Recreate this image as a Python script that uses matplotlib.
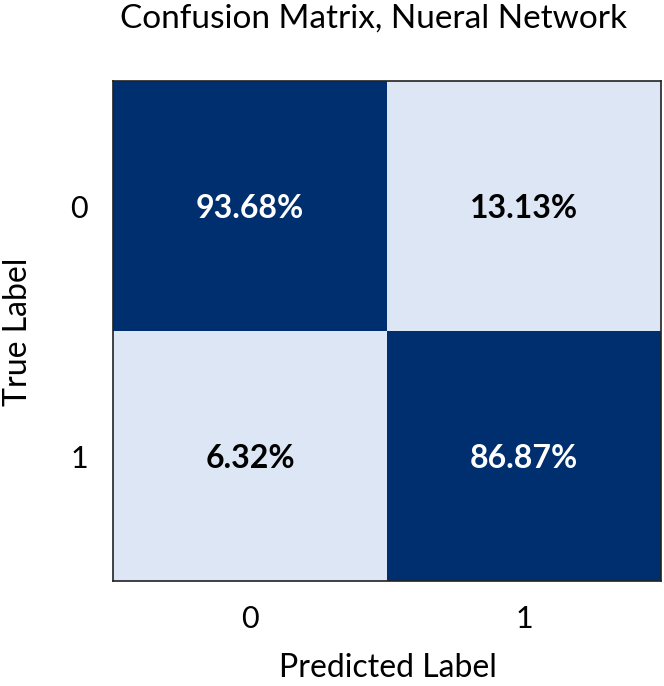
import matplotlib
matplotlib.use("Agg")
import matplotlib.pyplot as plt
import numpy as np
from matplotlib.colors import ListedColormap, BoundaryNorm

plt.rcParams['font.family'] = ['Lato', 'DejaVu Sans']

title = "Confusion Matrix, Nueral Network"
pred_labels = ["0", "1"]
true_labels = ["0", "1"]
values = [[93.68, 13.13],
          [6.32, 86.87]]

W, H = 664, 686
fig = plt.figure(figsize=(W/100, H/100), dpi=100)
ax = fig.add_axes([113/W, 1-581/H, (661-113)/W, (581-81)/H])

data = np.array(values)
cmap = ListedColormap(['#dce6f4', '#002f6f'])
norm = BoundaryNorm([0, 50, 100], cmap.N)

ax.imshow(data, cmap=cmap, norm=norm, aspect='auto')

for i in range(2):
    for j in range(2):
        v = data[i, j]
        ax.text(j, i + 0.01, f"{v:.2f}%", ha='center', va='center',
                fontsize=23, fontweight='bold',
                color='white' if v > 50 else 'black')

ax.set_xticks([0, 1])
ax.set_xticklabels(pred_labels, fontsize=22)
ax.set_yticks([0, 1])
ax.set_yticklabels(true_labels, fontsize=22)
ax.tick_params(axis='x', length=0, pad=17)
ax.tick_params(axis='y', length=0, pad=18)
for s in ax.spines.values():
    s.set_linewidth(1.2)
    s.set_color('#222222')

fig.text(388/W, 1-677/H, "Predicted Label", ha='center', va='baseline', fontsize=23)
fig.text(18/W, 1-332/H, "True Label", ha='center', va='center', rotation=90, fontsize=23)
fig.text(374/W, 1-28/H, title, ha='center', va='baseline', fontsize=24)

fig.savefig("out.png", dpi=100)
